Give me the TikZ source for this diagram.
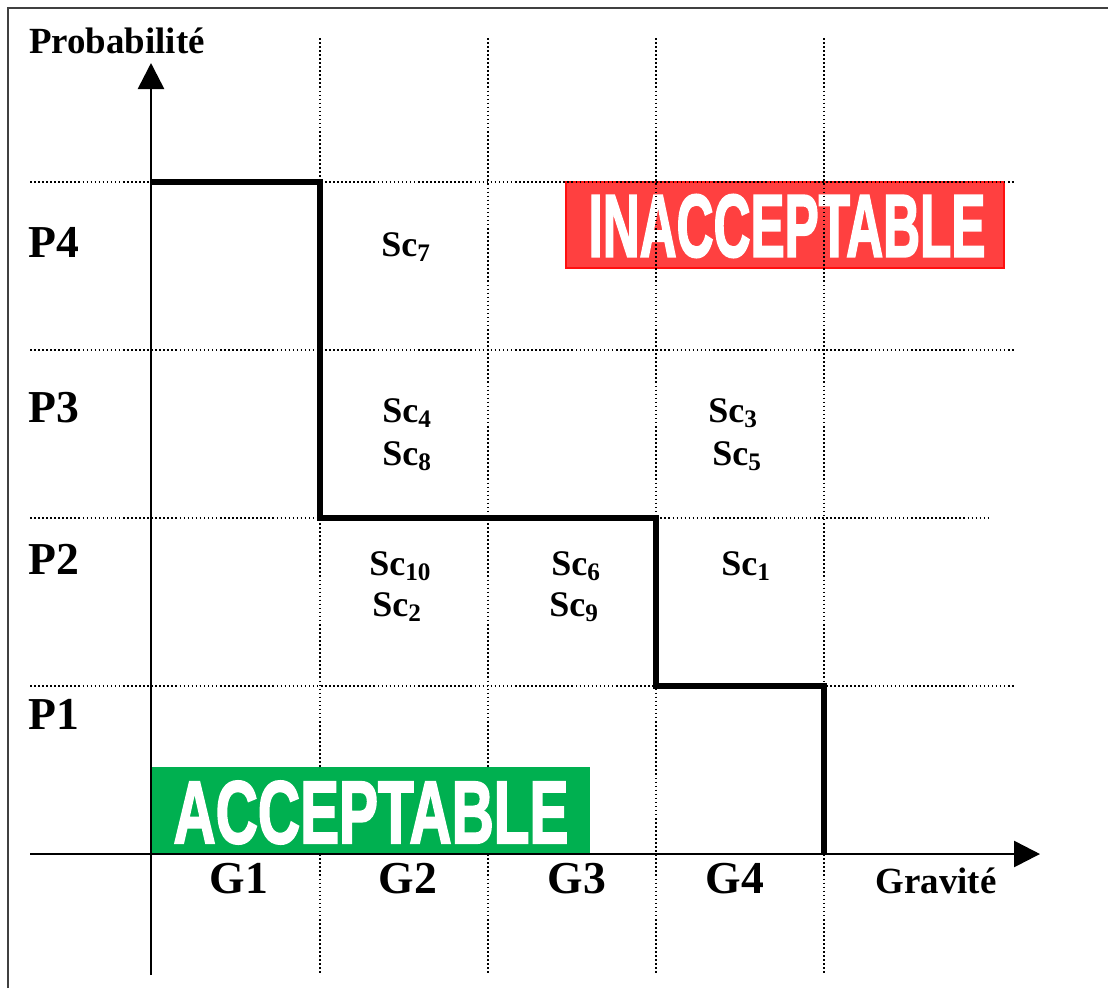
\documentclass[tikz,border=0pt]{standalone}
\usepackage{fontspec}
\setmainfont{Liberation Serif}
\newfontfamily\arialf{Liberation Sans}[UprightFont={* Bold}, FakeBold=2.5]
\usetikzlibrary{arrows.meta}
\definecolor{redbox}{HTML}{FF4040}
\definecolor{redline}{HTML}{FF1010}
\definecolor{greenbox}{HTML}{00B050}
\tikzset{
  grid dot/.style={line width=0.8pt, dash pattern=on 0.9pt off 1.4pt},
  axis/.style={line width=1.5pt, -{Triangle[length=0.52cm,width=0.52cm]}},
  stair/.style={line width=3.9pt, line join=miter},
  plabel/.style={font=\fontsize{26}{28}\selectfont\bfseries, anchor=base},
  axlabel/.style={font=\fontsize{21}{24}\selectfont\bfseries, anchor=base},
  sclabel/.style={font=\fontsize{20.5}{22}\selectfont\bfseries, anchor=base west, inner sep=0pt},
  bigword/.style={text=white, inner sep=0pt, font=\arialf},
}
\begin{document}
\begin{tikzpicture}[x=0.02cm,y=-0.02cm]
\useasboundingbox (0,0) rectangle (1108,988);
\fill[white] (0,0) rectangle (1108,988);
% frame
\draw[line width=1.3pt, black!75] (8,988) -- (8,8) -- (1108,8);
% INACCEPTABLE box (under grid)
\node[draw=redline, fill=redbox, line width=1pt, minimum width=438*0.02cm, minimum height=86*0.02cm, inner sep=0pt] (inacc) at (785,225) {};
\node[bigword] (inacctxt) at (787,226) {\resizebox{7.94cm}{1.24cm}{INACCEPTABLE}};
% grid
\foreach \x/\n in {320/a,488/b,656/c,824/d} {
  \coordinate (vt\n) at (\x,38);
  \coordinate (vb\n) at (\x,975);
  \draw[grid dot] (vt\n) -- (vb\n);
}
\foreach \y/\e/\n in {182/1015/a,350/1015/b,518/990/c,686/1015/d} {
  \coordinate (hl\n) at (30,\y);
  \coordinate (hr\n) at (\e,\y);
  \draw[grid dot] (hl\n) -- (hr\n);
}
% ACCEPTABLE box
\node[fill=greenbox, minimum width=440*0.02cm, minimum height=88*0.02cm, inner sep=0pt] (acc) at (370,811) {};
\node[bigword] (acctxt) at (371,812.5) {\resizebox{7.9cm}{1.24cm}{ACCEPTABLE}};
% axes
\coordinate (yb) at (151,975);
\coordinate (yt) at (151,63);
\coordinate (xl) at (30,854);
\coordinate (xr) at (1040,854);
\draw[axis] (yb) -- (yt);
\draw[axis] (xl) -- (xr);
% staircase
\coordinate (s0) at (151,182);
\coordinate (s1) at (320,182);
\coordinate (s2) at (320,518);
\coordinate (s3) at (656,518);
\coordinate (s4) at (656,686);
\coordinate (s5) at (824,686);
\coordinate (s6) at (824,854);
\draw[stair] (s0) -- (s1) -- (s2) -- (s3) -- (s4) -- (s5) -- (s6);
% axis labels
\node[axlabel] (prob) at (117,53) {Probabilité};
\node[axlabel] (grav) at (936,893) {Gravité};
\node[plabel] (p4) at (54,257) {P4};
\node[plabel] (p3) at (54,422) {P3};
\node[plabel] (p2) at (54,574) {P2};
\node[plabel] (p1) at (54,729) {P1};
\node[plabel] (g1) at (239,893) {G1};
\node[plabel] (g2) at (408,893) {G2};
\node[plabel] (g3) at (577,893) {G3};
\node[plabel] (g4) at (735,893) {G4};
% scenarios
\node[sclabel] (sc7) at (381,256) {Sc\textsubscript{7}};
\node[sclabel] (sc4) at (382,422) {Sc\textsubscript{4}};
\node[sclabel] (sc8) at (382,465) {Sc\textsubscript{8}};
\node[sclabel] (sc3) at (708,422) {Sc\textsubscript{3}};
\node[sclabel] (sc5) at (712,465) {Sc\textsubscript{5}};
\node[sclabel] (sc10) at (369,575) {Sc\textsubscript{10}};
\node[sclabel] (sc2) at (372,616) {Sc\textsubscript{2}};
\node[sclabel] (sc6) at (551,575) {Sc\textsubscript{6}};
\node[sclabel] (sc9) at (549,616) {Sc\textsubscript{9}};
\node[sclabel] (sc1) at (721,575) {Sc\textsubscript{1}};
\end{tikzpicture}
\end{document}
